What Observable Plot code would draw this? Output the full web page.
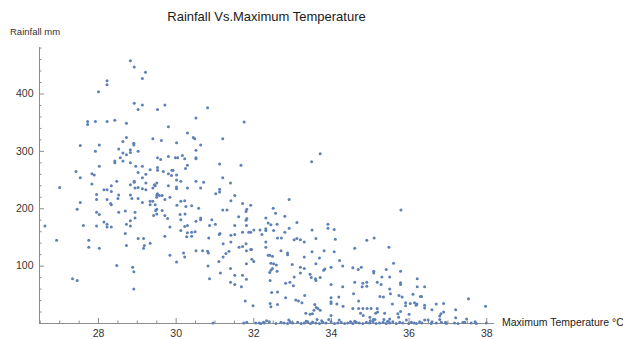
<!DOCTYPE html>
<html>
<head>
<meta charset="utf-8">
<script src="https://cdn.jsdelivr.net/npm/d3@7"></script>
<script src="https://cdn.jsdelivr.net/npm/@observablehq/plot@0.6"></script>
<style>
  body { margin: 0; background: #fff; font-family: "Liberation Sans", Arial, Helvetica, sans-serif; }
  #wrap { position: relative; width: 623px; height: 339px; overflow: hidden; }
  #wrap svg { position: absolute; left: 0; top: 0; }
  #title { position: absolute; left: 39px; width: 455px; top: 9px; text-align: center; font-size: 13px; color: #1a1a1a; }
  #ylab { position: absolute; left: 10px; top: 26px; font-size: 9.5px; color: #333; white-space: nowrap; }
  #xlab { position: absolute; left: 502px; top: 316px; font-size: 10.5px; color: #222; white-space: nowrap; }
</style>
</head>
<body>
<div id="wrap">
  <div id="chart"></div>
  <div id="title">Rainfall Vs.Maximum Temperature</div>
  <div id="ylab">Rainfall mm</div>
  <div id="xlab">Maximum Temperature °C</div>
</div>
<script>
// Daily observations: [maximum temperature °C, rainfall mm]

// Wet, cooler days (27–29.5 °C)
const coolDays = [
  [28.82,458],[28.92,447],[29.21,438],[29.13,427],[28.22,423],[28.22,416],[28.0,404],[28.92,384],
  [29.13,381],[29.02,373],[29.52,373],[27.72,352],[27.72,347],[27.92,352],[28.22,352],[28.42,354],
  [28.72,349],[29.40,322],[28.72,324],[28.63,317],[28.91,314],[28.91,311],[27.53,310],[28.02,311],
  [28.52,304],[28.82,303],[28.82,298],[29.02,300],[27.92,300],[28.63,297],[28.72,294],[28.56,289],
  [29.52,289],[28.42,283],[28.42,280],[28.63,283],[28.82,280],[28.02,274],[28.96,274],[29.13,274],
  [29.52,272],[29.52,267],[27.42,265],[29.02,263],[29.33,268],[27.83,261],[27.89,259],[27.53,254],
  [29.13,254],[29.22,260],[28.47,248],[28.92,248],[28.92,246],[27.83,243],[28.33,240],[28.82,242],
  [29.22,245],[29.44,242],[29.50,245],[27.0,237],[28.14,233],[28.22,233],[28.94,236],[29.02,237],
  [29.13,235],[29.22,233],[29.40,236],[29.46,240],
  [27.95,225],[27.95,216],[28.33,230],[28.22,216],[28.31,209],[28.33,207],[28.52,224],[28.50,218],
  [28.82,224],[28.86,218],[29.02,218],[29.13,211],[29.33,213],[29.33,207],[29.40,213],[29.46,207],
  [29.50,199],[29.50,191],[29.42,188],[29.50,224],[29.50,220],[27.45,199],[27.53,211],[27.95,194],
  [28.02,190],[28.52,194],[28.69,196],[28.94,194],[28.94,184],[28.82,179],[28.14,177],[28.22,173],
  [28.22,168],[28.33,168],[28.72,173],[28.82,170],[27.61,171],[27.95,170],[26.62,170],[28.69,157],
  [26.92,145],[27.75,145],[27.75,133],[28.02,131],[28.72,136],[29.02,148],[29.16,148],[29.18,136],
  [29.16,131],[29.33,140],[28.47,101],[28.88,98],[28.91,90],[28.91,60],[27.33,78],[27.45,75]
];

// Mild days (29.5–31.8 °C)
const mildDays = [
  [29.71,381],[30.81,376],[30.51,358],[31.75,351],[29.80,343],[30.29,332],[30.44,324],[30.48,322],
  [29.62,319],[30.01,315],[31.20,322],[30.63,311],[30.51,302],[29.60,286],[29.80,291],[29.98,289],
  [30.04,289],[30.16,293],[30.22,287],[30.51,289],[30.51,287],[31.12,278],[31.67,276],[29.67,265],
  [29.89,267],[29.92,267],[29.80,261],[29.88,258],[30.01,259],[30.24,270],[30.29,276],[30.01,250],
  [30.12,248],[30.51,248],[30.71,246],[31.20,254],[31.40,245],[29.80,240],[30.01,238],[30.01,235],
  [30.29,236],[30.63,236],[31.12,234],
  [31.12,229],[31.02,226],[31.51,223],[29.52,226],[29.57,223],[29.64,223],[29.71,216],[29.84,220],
  [30.12,213],[30.22,214],[31.41,214],[31.71,209],[31.82,199],[31.80,195],[31.92,206],[29.47,197],
  [29.64,197],[29.71,188],[29.78,183],[30.02,206],[30.25,204],[30.40,205],[30.10,190],[30.23,191],
  [30.12,181],[30.58,201],[30.63,184],[30.63,181],[30.51,178],[31.20,198],[31.31,198],[31.61,186],
  [30.92,181],[30.86,171],[31.01,173],[30.29,171],[30.22,169],[30.40,159],[30.49,160],[30.29,158],
  [30.12,162],[30.27,151],[30.40,152],[29.84,168],[29.71,152],[31.13,157],[31.11,155],[31.51,171],
  [31.41,142],[31.71,159],[31.81,171],[31.80,180],[31.82,183],[31.87,159],[31.92,159],[30.84,149],
  [31.21,139],[31.41,154],[31.51,155],[31.62,133],[31.71,134],[31.80,139],[31.81,127],[31.92,129],
  [31.94,129],[30.68,127],[30.81,126],[30.83,123],[30.51,127],[30.19,123],[30.22,116],[30.01,107],
  [29.84,119],[31.10,108],[31.21,116],[31.28,122],[31.36,126],[30.82,100],[30.86,78],[31.14,88],
  [31.40,96],[31.51,84],[31.40,72],[31.51,68],[31.68,64],[31.71,84],[31.81,77],[31.81,104],
  [31.78,39]
];

// Warm days (32–34 °C)
const warmDays = [
  [32.0,163],[32.16,163],[32.21,155],[32.31,165],[32.31,162],[32.51,162],[32.31,184],[32.50,201],
  [31.95,112],[32.0,108],[31.98,31],[32.31,142],[32.31,133],[32.41,119],[32.48,117],[32.51,104],
  [32.44,93],[32.41,89],[32.48,96],[32.42,75],[32.46,54],[32.42,35],[32.44,29],
  [33.71,296],[33.49,282],[32.91,216],[32.56,192],[32.80,187],[32.37,175],[32.44,172],[32.60,173],
  [32.80,159],[32.91,166],[33.11,176],[32.61,149],[32.71,149],[33.04,146],[33.11,148],[33.20,146],
  [33.30,142],[33.50,163],[33.60,148],[33.91,173],[33.91,166],[32.70,127],[32.87,123],[32.87,120],
  [33.30,116],[33.50,125],[33.69,114],[33.60,104],[33.81,127],[32.37,119],[32.44,105],[32.58,102],
  [32.99,103],[33.20,98],[33.20,88],[33.30,96],[32.60,91],[33.04,81],[33.83,95],[33.80,93],
  [33.99,98],[33.45,86],[33.48,80],[33.59,78],[33.60,75],[33.71,80],[32.82,70],[32.93,72],
  [33.02,66],[33.99,68],[32.61,55],[32.82,45],[33.08,41],[33.15,39],[33.24,36],[33.31,49],
  [33.57,33],[33.61,28],[33.65,26],[33.71,23],[33.99,45],[33.99,38],[33.99,35],[33.34,18],
  [33.45,16],[33.51,17],[33.55,23],[33.63,7],[33.99,14],[33.93,7],[32.61,33]
];

// Hot days (34 °C and above)
const hotDays = [
  [34.07,164],[34.10,147],[35.10,149],[34.91,145],[34.60,131],[35.48,133],[34.07,125],[34.21,110],
  [34.29,100],[34.29,64],[34.55,97],[34.69,94],[34.77,98],[34.60,72],[34.57,52],[34.81,70],
  [34.79,64],[34.91,72],[34.91,65],[35.09,91],[35.09,88],[35.18,72],[35.28,68],[35.30,81],
  [35.41,94],[35.50,81],[35.50,60],[35.52,52],[35.25,47],[35.34,46],[34.14,34],[34.19,46],
  [34.30,30],[34.55,26],[34.70,26],[34.70,39],[34.75,18],[34.81,26],[34.92,26],[35.02,26],
  [35.18,26],[35.19,20],[35.37,18],[34.82,14],[34.99,11],[35.08,7],[35.12,7],[35.14,18],
  [35.35,7],[35.50,8],
  [35.79,198],[35.60,105],[35.78,91],[36.21,78],[35.78,71],[35.78,68],[36.21,64],[36.40,64],
  [35.74,49],[35.82,46],[36.10,51],[36.29,47],[36.32,47],[35.91,36],[35.91,31],[36.03,35],
  [36.14,36],[36.18,32],[36.20,34],[35.57,34],[36.40,32],[36.40,27],[36.70,34],[36.89,35],
  [36.59,24],[36.82,17],[36.79,13],[36.79,7],[36.89,20],[37.20,24],[37.20,10],[37.53,43],
  [37.97,30],[37.48,8],[37.70,3],[35.71,17],[35.73,11],[36.0,16],[35.78,21],[36.40,6],
  [36.49,6],[35.93,6],[36.59,3],[36.94,2],[37.39,2]
];

// Days with little or no rain
const dryDays = [
  [30.95,1],[31.74,1],[31.82,2],[32.05,1],[32.14,1],[32.18,0],[32.25,2],[32.27,1],[32.40,3],
  [32.57,0],[32.70,2],[32.78,1],[32.87,0],[32.94,3],[33.0,1],[33.13,2],[33.22,0],[33.30,1],
  [33.39,3],[33.46,0],[33.52,2],[33.60,1],[33.69,0],[33.78,2],[33.86,1],[33.99,3],[34.08,0],
  [34.16,1],[34.25,2],[34.34,0],[34.42,1],[34.49,3],[34.55,0],[34.64,2],[34.72,1],[34.81,0],
  [34.90,2],[34.98,1],[35.07,3],[35.15,0],[35.24,1],[35.33,2],[35.41,0],[35.50,1],[35.58,3],
  [35.67,0],[35.76,2],[35.84,1],[35.99,0],[36.06,2],[36.13,1],[36.19,0],[36.27,3],[36.33,1],
  [36.57,0],[36.70,1],[36.83,2],[36.96,0],[37.17,1],[37.26,0],[37.43,2],[37.60,1],[37.73,0],
  [37.99,1],[32.33,5],[32.90,6],[33.35,4],[33.75,5],[34.20,6],[34.60,4],[35.00,5],[35.45,4]
];

// Axis ranges and ticks
const tempRange = [26.48, 38.2];
const rainRange = [0, 481];
const tempTicks = [28, 30, 32, 34, 36, 38];
const tempMinorTicks = [26.5, 27, 27.5, 28.5, 29, 29.5, 30.5, 31, 31.5, 32.5, 33, 33.5, 34.5, 35, 35.5, 36.5, 37, 37.5];
const rainTicks = [100, 200, 300, 400];
const rainMinorTicks = [20, 40, 60, 80, 120, 140, 160, 180, 220, 240, 260, 280, 320, 340, 360, 380, 420, 440, 460, 480];

const observations = [...coolDays, ...mildDays, ...warmDays, ...hotDays, ...dryDays];

const axisGray = "#8c8c8c";
const chart = Plot.plot({
  width: 623,
  height: 339,
  marginLeft: 39,
  marginRight: 129,
  marginTop: 47,
  marginBottom: 16,
  style: { background: "transparent", fontFamily: "'Liberation Sans', Arial, Helvetica, sans-serif", fontSize: "10.5px", color: "#333" },
  x: { domain: tempRange },
  y: { domain: rainRange },
  marks: [
    Plot.ruleY([rainRange[0]], { stroke: axisGray }),
    Plot.ruleX([tempRange[0]], { stroke: axisGray }),
    Plot.axisX({ ticks: tempMinorTicks, tickSize: -2.5, text: null, stroke: axisGray, label: null }),
    Plot.axisX({ ticks: tempTicks, tickSize: -5, tickPadding: 11, stroke: axisGray, fill: "#333", label: null }),
    Plot.axisY({ ticks: rainMinorTicks, tickSize: -2.5, text: null, stroke: axisGray, label: null }),
    Plot.axisY({ ticks: rainTicks, tickSize: -5, tickPadding: 11, stroke: axisGray, fill: "#333", label: null }),
    Plot.dot(observations, { x: d => d[0], y: d => d[1], r: 1.5, fill: "#5e81b5", stroke: null })
  ]
});
document.getElementById("chart").appendChild(chart);
</script>
</body>
</html>
